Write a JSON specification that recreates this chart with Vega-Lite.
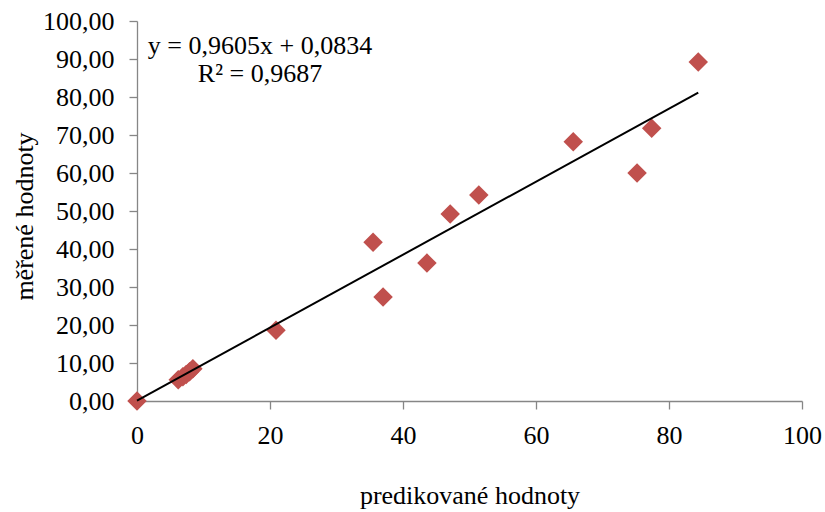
{
  "$schema": "https://vega.github.io/schema/vega-lite/v6.json",
  "autosize": "none",
  "width": 665,
  "height": 380,
  "padding": {"left": 137, "top": 21, "right": 23, "bottom": 111},
  "background": "white",
  "config": {
    "view": {"stroke": null},
    "font": "Liberation Serif",
    "axis": {
      "grid": false,
      "domainColor": "#868686",
      "tickColor": "#868686",
      "domainWidth": 1.3,
      "tickWidth": 1.3,
      "tickSize": 8,
      "labelFont": "Liberation Serif",
      "labelFontSize": 26,
      "labelColor": "#000000",
      "labelOverlap": false,
      "labelFlush": false,
      "labelBound": false,
      "titleFont": "Liberation Serif",
      "titleFontSize": 26,
      "titleFontWeight": "normal",
      "titleColor": "#000000"
    }
  },
  "datasets": {
    "points": [
      {"pred": 0.0, "meas": 0.0},
      {"pred": 6.2, "meas": 5.6},
      {"pred": 6.9, "meas": 6.4},
      {"pred": 7.4, "meas": 7.0},
      {"pred": 7.9, "meas": 7.7},
      {"pred": 8.4, "meas": 8.5},
      {"pred": 20.9, "meas": 18.6},
      {"pred": 35.5, "meas": 41.8},
      {"pred": 37.0, "meas": 27.4},
      {"pred": 43.6, "meas": 36.3},
      {"pred": 47.1, "meas": 49.2},
      {"pred": 51.4, "meas": 54.2},
      {"pred": 65.6, "meas": 68.2},
      {"pred": 75.2, "meas": 60.0},
      {"pred": 77.4, "meas": 71.8},
      {"pred": 84.4, "meas": 89.2}
    ],
    "trend": [
      {"pred": 0.0, "meas": 0.0834},
      {"pred": 84.4, "meas": 81.15}
    ],
    "labels": [
      {"pred": 18.5, "meas": 93.4, "text": "y = 0,9605x + 0,0834"},
      {"pred": 18.5, "meas": 86.0, "text": "R² = 0,9687"}
    ]
  },
  "encoding": {
    "x": {
      "field": "pred", "type": "quantitative",
      "scale": {"domain": [0, 100], "nice": false, "zero": false},
      "axis": {
        "values": [0, 20, 40, 60, 80, 100],
        "format": "d",
        "labelPadding": 13,
        "title": "predikované hodnoty",
        "titleX": 332.5,
        "titleY": 102,
        "titleBaseline": "alphabetic",
        "titleAnchor": "middle"
      }
    },
    "y": {
      "field": "meas", "type": "quantitative",
      "scale": {"domain": [0, 100], "nice": false, "zero": false},
      "axis": {
        "values": [0, 10, 20, 30, 40, 50, 60, 70, 80, 90, 100],
        "tickCount": 11,
        "labelExpr": "replace(format(datum.value, '.2f'), '.', ',')",
        "labelPadding": 15,
        "labelOverlap": false,
        "title": "měřené hodnoty",
        "titleX": -105,
        "titleY": 195,
        "titleAngle": -90,
        "titleBaseline": "alphabetic",
        "titleAnchor": "middle"
      }
    }
  },
  "layer": [
    {
      "data": {"name": "points"},
      "mark": {"type": "point", "shape": "diamond", "filled": true, "size": 380, "color": "#C0504D", "opacity": 1}
    },
    {
      "data": {"name": "trend"},
      "mark": {"type": "line", "color": "#000000", "strokeWidth": 2}
    },
    {
      "data": {"name": "labels"},
      "mark": {"type": "text", "font": "Liberation Serif", "fontSize": 26, "color": "#000000", "align": "center", "baseline": "middle"},
      "encoding": {
        "text": {"field": "text"}
      }
    }
  ]
}
